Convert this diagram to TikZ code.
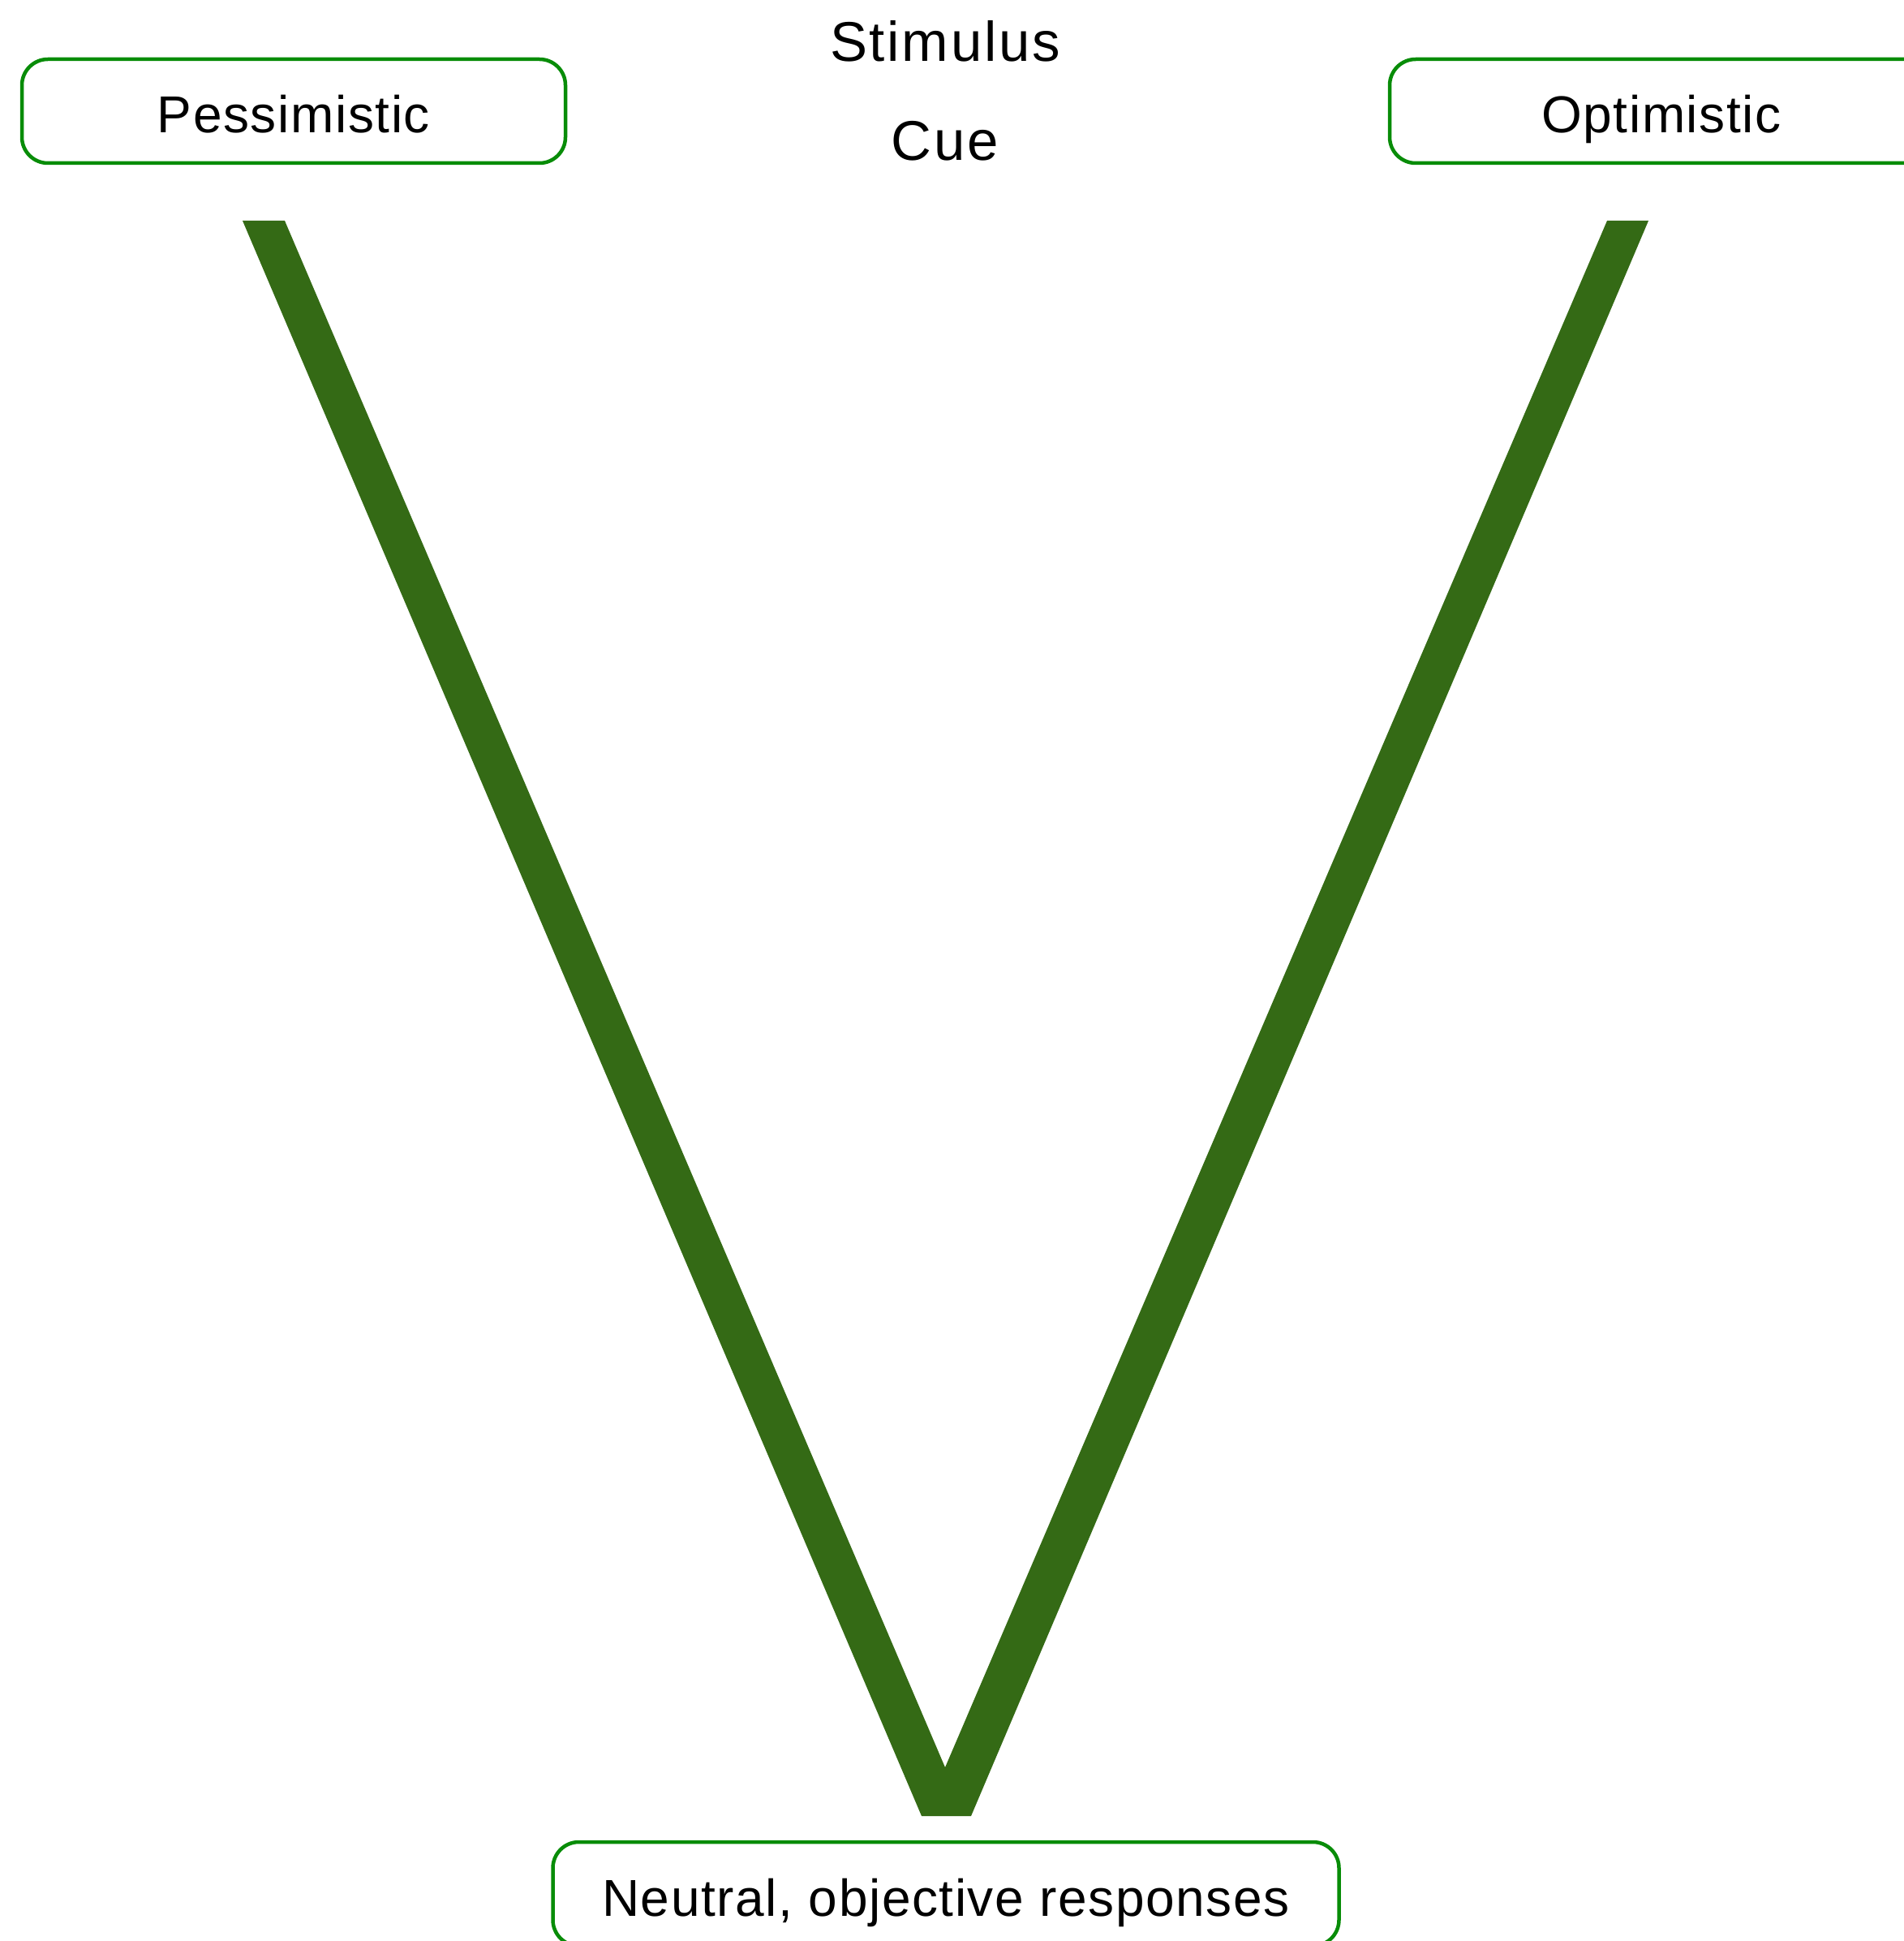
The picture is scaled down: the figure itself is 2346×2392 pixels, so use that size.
\documentclass[tikz,border=0pt]{standalone}
\usepackage{fontspec}
\setmainfont{Liberation Sans}
\newfontfamily\boxfont[LetterSpace=2.5]{Liberation Sans}
\newfontfamily\topfont[LetterSpace=4]{Liberation Sans}
\definecolor{boxgreen}{RGB}{8,140,8}
\definecolor{vgreen}{RGB}{52,106,21}
\begin{document}
\begin{tikzpicture}[x=1pt,y=-1pt,
  labelbox/.style={draw=boxgreen, line width=4.5pt, rounded corners=32pt, fill=white,
    minimum width=670pt, minimum height=128pt, inner sep=0pt,
    text height=54pt, text depth=0pt, font=\boxfont\fontsize{64}{70}\selectfont},
  toptext/.style={anchor=base, inner sep=0pt, font=\topfont\fontsize{69}{76}\selectfont}]
\useasboundingbox (0,0) rectangle (2346,2392);
% V shape
\fill[vgreen] (299,272) -- (351,272) -- (1165,2178) -- (1981,272) -- (2032,272)
  -- (1197,2238) -- (1136,2238) -- cycle;
\node[labelbox] (pess) at (362,137) {Pessimistic};
\node[labelbox] (opt) at (2048,137) {Optimistic};
\node[labelbox, minimum width=969pt] (neutral) at (1166,2334) {Neutral, objective responses};
\node[toptext] (stim) at (1165,76) {Stimulus};
\node[toptext] (cue) at (1165,198) {Cue};
\end{tikzpicture}
\end{document}
